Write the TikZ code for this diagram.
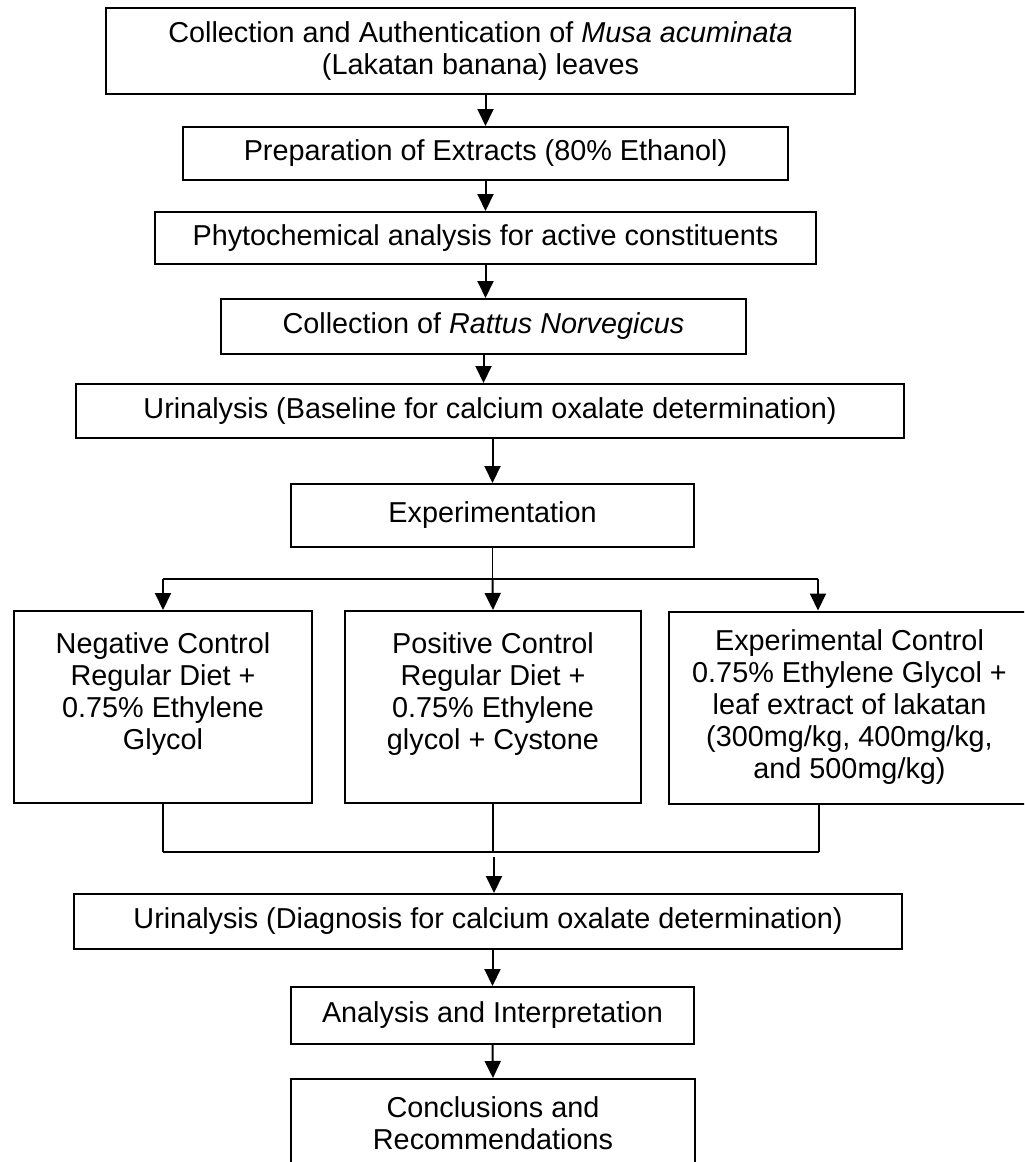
\documentclass[tikz,border=0pt]{standalone}
\usepackage{fontspec}
\setmainfont{Liberation Sans}
\usepackage{tikz}
\usetikzlibrary{calc,positioning,arrows.meta}
\tikzset{
  stepbox/.style={rectangle, draw=black, line width=1pt, align=center, inner sep=0pt,
    font=\fontsize{14.4pt}{16pt}\selectfont},
  groupbox/.style={stepbox, minimum height=96pt},
  line/.style={draw, line width=1pt, -{Triangle[length=8.5pt,width=8pt]}},
  wire/.style={draw, line width=0.6pt},
  bar/.style={draw, line width=1pt}
}

\begin{document}
\begin{tikzpicture}[x=0.5pt,y=-0.5pt]
    \useasboundingbox (0,0) rectangle (1024,1162);
    \clip (0,0) rectangle (1024,1162);

    \node[stepbox, minimum width=374.5pt, minimum height=43pt] (coll) at (480.5,51)
      {Collection and Authentication of \textit{Musa acuminata}\\ (Lakatan banana) leaves};
    \node[stepbox, minimum width=302.5pt, minimum height=26.5pt] (prep) at (485.5,153.5)
      {Preparation of Extracts (80\% Ethanol)};
    \node[stepbox, minimum width=330.5pt, minimum height=26pt] (phyto) at (485.5,238)
      {Phytochemical analysis for active constituents};
    \node[stepbox, minimum width=262.5pt, minimum height=27.5pt] (rat) at (483.5,326.5)
      {Collection of \textit{Rattus Norvegicus}};
    \node[stepbox, minimum width=414pt, minimum height=27pt] (base) at (490,411)
      {Urinalysis (Baseline for calcium oxalate determination)};
    \node[stepbox, minimum width=201.5pt, minimum height=31.5pt] (exper) at (492.5,515.5)
      {Experimentation};

    \node[groupbox, minimum width=149pt] (neg) at (163,707)
      {Negative Control\\ Regular Diet +\\ 0.75\% Ethylene\\ Glycol\\ ~};
    \node[groupbox, minimum width=148pt] (pos) at (493,707)
      {Positive Control\\ Regular Diet +\\ 0.75\% Ethylene\\ glycol + Cystone\\ ~};
    \node[groupbox, minimum width=180.5pt] (expc) at (849.5,707.5)
      {Experimental Control\\ 0.75\% Ethylene Glycol +\\ leaf extract of lakatan\\ (300mg/kg, 400mg/kg,\\ and 500mg/kg)};

    \node[stepbox, minimum width=414pt, minimum height=27.5pt] (diag) at (488,921.5)
      {Urinalysis (Diagnosis for calcium oxalate determination)};
    \node[stepbox, minimum width=201.5pt, minimum height=28.5pt] (anal) at (492.5,1015.5)
      {Analysis and Interpretation};
    \node[stepbox, minimum width=202pt, minimum height=44pt] (concl) at (493,1123)
      {Conclusions and\\ Recommendations};

    \coordinate (split) at (492.5,579);
    \coordinate (splitR) at (818,579);
    \coordinate (merge) at (494,852);
    \coordinate (mergeR) at (819,852);

    \begin{scope}[every path/.style=line]
      \path (prep.north |- coll.south) -- (prep.north);
      \path (prep.south) -- (phyto.north);
      \path (phyto.south) -- (phyto.south |- rat.north);
      \path (rat.south) -- (rat.south |- base.north);
      \path (exper.north |- base.south) -- (exper.north);

      \path (neg.north |- split) -- (neg.north);
      \path (split) -- (pos.north);
      \path (splitR) -- (splitR |- expc.north);

      \path[shorten <=2.5pt] (merge) -- (merge |- diag.north);
      \path (anal.north |- diag.south) -- (anal.north);
      \path (anal.south) -- (concl.north);
    \end{scope}

    \path[wire] (exper.south) -- (split);
    \path[bar] (neg.north |- split) -- (splitR);

    \path[wire] (neg.south) -- (neg.south |- merge);
    \path[wire] (pos.south) -- (pos.south |- merge);
    \path[wire] (mergeR |- expc.south) -- (mergeR);
    \path[bar] (neg.south |- merge) -- (mergeR);

\end{tikzpicture}
\end{document}
